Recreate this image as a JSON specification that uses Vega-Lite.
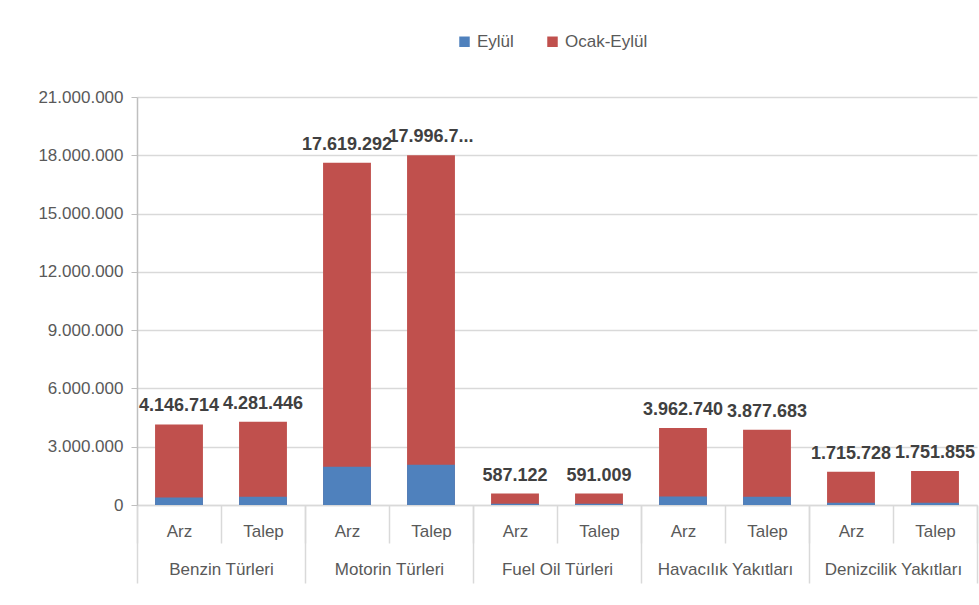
{
  "$schema": "https://vega.github.io/schema/vega-lite/v6.json",
  "width": 840,
  "height": 408,
  "autosize": {"type": "none"},
  "padding": {"left": 137, "top": 97, "right": 2, "bottom": 100},
  "background": "white",
  "config": {"view": {"stroke": null}, "font": "Liberation Sans"},
  "data": {
    "values": [
      {"group": "Benzin Türleri", "sub": "Arz", "eylul": 380000, "ocak": 4146714, "label": "4.146.714"},
      {"group": "Benzin Türleri", "sub": "Talep", "eylul": 430000, "ocak": 4281446, "label": "4.281.446"},
      {"group": "Motorin Türleri", "sub": "Arz", "eylul": 1970000, "ocak": 17619292, "label": "17.619.292"},
      {"group": "Motorin Türleri", "sub": "Talep", "eylul": 2070000, "ocak": 17996700, "label": "17.996.7..."},
      {"group": "Fuel Oil Türleri", "sub": "Arz", "eylul": 60000, "ocak": 587122, "label": "587.122"},
      {"group": "Fuel Oil Türleri", "sub": "Talep", "eylul": 60000, "ocak": 591009, "label": "591.009"},
      {"group": "Havacılık Yakıtları", "sub": "Arz", "eylul": 440000, "ocak": 3962740, "label": "3.962.740"},
      {"group": "Havacılık Yakıtları", "sub": "Talep", "eylul": 430000, "ocak": 3877683, "label": "3.877.683"},
      {"group": "Denizcilik Yakıtları", "sub": "Arz", "eylul": 110000, "ocak": 1715728, "label": "1.715.728"},
      {"group": "Denizcilik Yakıtları", "sub": "Talep", "eylul": 110000, "ocak": 1751855, "label": "1.751.855"}
    ]
  },
  "transform": [{"calculate": "datum.group + '|' + datum.sub", "as": "key"}],
  "layer": [
    {
      "encoding": {
        "x": {
          "field": "key", "type": "nominal", "sort": null,
          "scale": {"paddingInner": 0, "paddingOuter": 0},
          "axis": {
            "title": null, "orient": "bottom",
            "labelExpr": "split(datum.value, '|')[1]",
            "labelAngle": 0, "labelFontSize": 17, "labelColor": "#595959",
            "labelPadding": -20, "labelBaseline": "top",
            "tickBand": "extent", "tickSize": 38, "tickColor": "#d9d9d9", "tickWidth": 1.5,
            "domainColor": "#d9d9d9", "domainWidth": 1.5
          }
        },
        "y": {
          "field": "ocak", "type": "quantitative",
          "scale": {"domain": [0, 21000000], "nice": false},
          "axis": {
            "title": null,
            "values": [0, 3000000, 6000000, 9000000, 12000000, 15000000, 18000000, 21000000],
            "labelExpr": "replace(format(datum.value, ','), regexp(',', 'g'), '.')",
            "labelFontSize": 17, "labelColor": "#595959", "labelPadding": 8,
            "tickSize": 6, "tickColor": "#bfbfbf", "domainColor": "#bfbfbf", "domainWidth": 1.5,
            "gridColor": "#d9d9d9", "gridWidth": 1.5
          }
        }
      },
      "layer": [
        {
          "mark": {"type": "bar", "width": {"band": 0.57}},
          "encoding": {
            "color": {
              "datum": "Ocak-Eylül",
              "scale": {"domain": ["Eylül", "Ocak-Eylül"], "range": ["#4F81BD", "#C0504D"]},
              "legend": {
                "orient": "none", "legendX": 319, "legendY": -64, "direction": "horizontal",
                "title": null, "symbolType": "square", "symbolSize": 110, "symbolStrokeWidth": 0,
                "labelFontSize": 17, "labelColor": "#595959", "columnPadding": 30, "labelOffset": 4
              }
            }
          }
        },
        {
          "mark": {"type": "bar", "width": {"band": 0.57}},
          "encoding": {
            "y": {"field": "eylul", "type": "quantitative"},
            "color": {"datum": "Eylül"}
          }
        },
        {
          "mark": {"type": "text", "baseline": "bottom", "dy": -9, "fontWeight": "bold", "fontSize": 18, "color": "#404040"},
          "encoding": {"text": {"field": "label"}}
        }
      ]
    },
    {
      "mark": {"type": "rule", "opacity": 0},
      "encoding": {
        "x": {
          "field": "group", "type": "nominal", "sort": null,
          "scale": {"paddingInner": 0, "paddingOuter": 0},
          "axis": {
            "title": null, "orient": "bottom", "labelAngle": 0,
            "labelFontSize": 17, "labelColor": "#595959", "labelBaseline": "top",
            "labelPadding": -22, "tickBand": "extent", "tickSize": 78,
            "tickColor": "#d9d9d9", "tickWidth": 1.5, "domain": false
          }
        }
      }
    }
  ],
  "resolve": {"scale": {"x": "independent"}}
}
